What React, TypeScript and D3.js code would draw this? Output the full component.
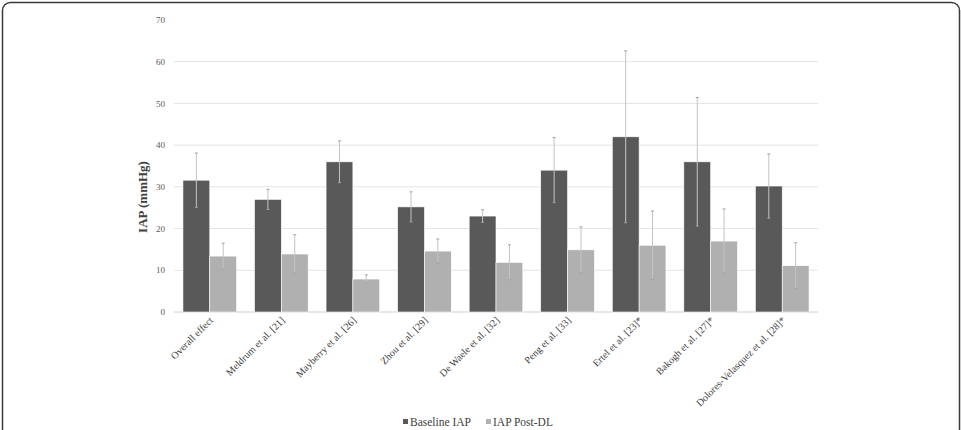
import React, { useEffect, useRef } from "react";
import * as d3 from "d3";

const studies = [
  "Overall effect",
  "Meldrum et al. [21]",
  "Mayberry et al. [26]",
  "Zhou et al. [29]",
  "De Waele et al. [32]",
  "Peng et al. [33]",
  "Ertel et al. [23]*",
  "Bakogh et al. [27]*",
  "Dolores-Velasquez et al. [28]*",
];
const seriesNames = ["Baseline IAP", "IAP Post-DL"];
const baselineMean = [31.6, 27.0, 36.0, 25.2, 23.0, 34.0, 42.0, 36.0, 30.2];
const baselineSd = [6.5, 2.4, 5.0, 3.6, 1.5, 7.8, 20.6, 15.4, 7.7];
const postMean = [13.4, 13.9, 7.9, 14.6, 11.9, 14.9, 16.0, 17.0, 11.1];
const postSd = [3.1, 4.6, 1.0, 2.9, 4.2, 5.5, 8.2, 7.7, 5.5];
const yTicks = [0, 10, 20, 30, 40, 50, 60, 70];

const W = 961;
const H = 430;
const margin = { top: 20, left: 174, right: 143, bottom: 118 };
const colors = ["#595959", "#b0b0b0"];
const serif = "'Liberation Serif', 'DejaVu Serif', serif";

export default function App() {
  const ref = useRef<SVGSVGElement>(null);

  useEffect(() => {
    const svg = d3.select(ref.current);
    svg.selectAll("*").remove();

    const innerW = W - margin.left - margin.right;
    const innerH = H - margin.top - margin.bottom;

    // outer frame
    svg.append("rect")
      .attr("x", 2.5).attr("y", 2.5)
      .attr("width", W - 4).attr("height", H + 20)
      .attr("rx", 8)
      .attr("fill", "#fff")
      .attr("stroke", "#3a3a3a")
      .attr("stroke-width", 1.5);

    const g = svg.append("g").attr("transform", `translate(${margin.left},${margin.top})`);

    const x0 = d3.scaleBand<string>().domain(studies).range([0, innerW])
      .paddingInner(0.25).paddingOuter(0.125);
    const x1 = d3.scaleBand<string>().domain(seriesNames).range([0, x0.bandwidth()]);
    const y = d3.scaleLinear().domain([0, 70]).range([innerH, 0]);

    // gridlines + tick labels
    g.selectAll("line.grid").data(yTicks).enter().append("line")
      .attr("class", "grid")
      .attr("x1", 0).attr("x2", innerW)
      .attr("y1", (d) => y(d)).attr("y2", (d) => y(d))
      .attr("stroke", (d) => (d === 0 ? "#d0d0d0" : "#e4e4e4"))
      .attr("stroke-width", 1)
      .attr("display", (d) => (d === 70 ? "none" : null));

    g.selectAll("text.ytick").data(yTicks).enter().append("text")
      .attr("class", "ytick")
      .attr("x", -9).attr("y", (d) => y(d))
      .attr("dy", "0.35em")
      .attr("text-anchor", "end")
      .attr("font-family", serif)
      .attr("font-size", 9)
      .attr("fill", "#595959")
      .text((d) => d);

    const rows = studies.map((s, i) => ({
      study: s,
      vals: [
        { name: seriesNames[0], mean: baselineMean[i], sd: baselineSd[i] },
        { name: seriesNames[1], mean: postMean[i], sd: postSd[i] },
      ],
    }));

    const groups = g.selectAll("g.study").data(rows).enter().append("g")
      .attr("class", "study")
      .attr("transform", (d) => `translate(${x0(d.study)},0)`);

    groups.selectAll("rect").data((d) => d.vals).enter().append("rect")
      .attr("x", (d) => x1(d.name)!)
      .attr("y", (d) => y(d.mean))
      .attr("width", x1.bandwidth())
      .attr("height", (d) => innerH - y(d.mean))
      .attr("fill", (d, i) => colors[i])
      .attr("stroke", "#fff")
      .attr("stroke-width", 0.6);

    // error bars
    const err = groups.selectAll("g.err").data((d) => d.vals).enter().append("g").attr("class", "err");
    const cx = (d: any) => x1(d.name)! + x1.bandwidth() / 2;
    err.append("line")
      .attr("x1", cx).attr("x2", cx)
      .attr("y1", (d) => y(d.mean + d.sd)).attr("y2", (d) => y(Math.max(0, d.mean - d.sd)))
      .attr("stroke", "#c4c4c4").attr("stroke-width", 1);
    [1, -1].forEach((s) => {
      err.append("line")
        .attr("x1", (d) => cx(d) - 1.5).attr("x2", (d) => cx(d) + 1.5)
        .attr("y1", (d) => y(d.mean + s * d.sd)).attr("y2", (d) => y(d.mean + s * d.sd))
        .attr("stroke", "#a0a0a0").attr("stroke-width", 1);
    });

    // category labels, rotated
    g.selectAll("text.xlab").data(studies).enter().append("text")
      .attr("class", "xlab")
      .attr("transform", (d) => `translate(${x0(d)! + x0.bandwidth() / 2 + 4},${innerH + 9}) rotate(-45)`)
      .attr("text-anchor", "end")
      .attr("font-family", serif)
      .attr("font-size", 10)
      .attr("fill", "#404040")
      .text((d) => d);

    // y axis title
    svg.append("text")
      .attr("transform", `translate(147,197) rotate(-90)`)
      .attr("text-anchor", "middle")
      .attr("font-family", serif)
      .attr("font-size", 13)
      .attr("font-weight", "bold")
      .attr("fill", "#404040")
      .text("IAP (mmHg)");

    // legend
    const legX = [403, 486];
    seriesNames.forEach((name, i) => {
      svg.append("rect")
        .attr("x", legX[i]).attr("y", 419)
        .attr("width", 5).attr("height", 5)
        .attr("fill", colors[i]);
      svg.append("text")
        .attr("x", legX[i] + 7).attr("y", 426)
        .attr("font-family", serif)
        .attr("font-size", 11.5)
        .attr("fill", "#404040")
        .text(name);
    });
  }, []);

  return (
    <svg ref={ref} width={W} height={H} style={{ position: "absolute", left: 0, top: 0, background: "#fff" }} />
  );
}
